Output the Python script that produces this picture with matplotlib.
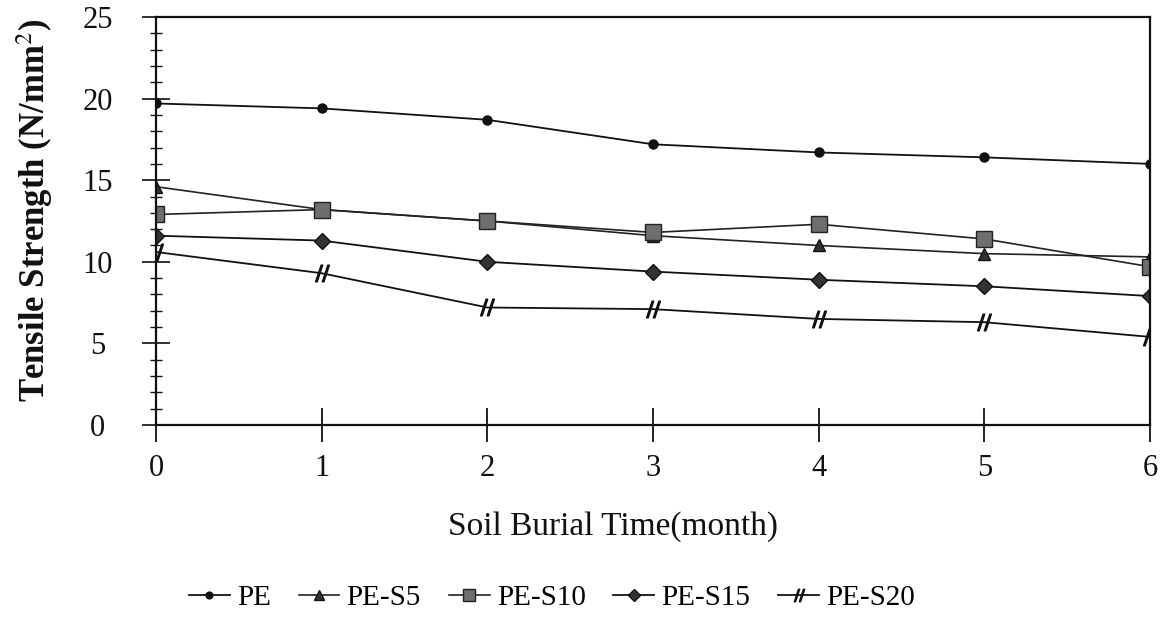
import matplotlib.pyplot as plt
from matplotlib.ticker import MultipleLocator

# Tensile strength (N/mm^2) after each month of soil burial
months = [0, 1, 2, 3, 4, 5, 6]
pe = [19.7, 19.4, 18.7, 17.2, 16.7, 16.4, 16.0]
pe_s5 = [14.6, 13.2, 12.5, 11.6, 11.0, 10.5, 10.3]
pe_s10 = [12.9, 13.2, 12.5, 11.8, 12.3, 11.4, 9.7]
pe_s15 = [11.6, 11.3, 10.0, 9.4, 8.9, 8.5, 7.9]
pe_s20 = [10.6, 9.3, 7.2, 7.1, 6.5, 6.3, 5.4]

series_names = ["PE", "PE-S5", "PE-S10", "PE-S15", "PE-S20"]

plt.rcParams["font.family"] = ["Liberation Serif", "DejaVu Serif"]
plt.rcParams["mathtext.fontset"] = "stix"


def plot_results():
    fig = plt.figure(figsize=(11.68, 6.22), dpi=100)
    ax = fig.add_axes([0.1336, 0.3167, 0.851, 0.656])

    ink = "#111111"
    ax.plot(months, pe, color=ink, lw=1.3, marker="o", ms=6.5,
            mfc=ink, mec=ink, label=series_names[0])
    ax.plot(months, pe_s5, color="#222222", lw=1.2, marker="^", ms=9,
            mfc="#333333", mec=ink, label=series_names[1])
    ax.plot(months, pe_s10, color="#222222", lw=1.2, marker="s", ms=11,
            mfc="#6e6e6e", mec="#222222", label=series_names[2])
    ax.plot(months, pe_s15, color=ink, lw=1.3, marker="D", ms=8,
            mfc="#333333", mec=ink, label=series_names[3])
    ax.plot(months, pe_s20, color=ink, lw=1.3, marker="$//$", ms=12,
            mfc=ink, mec=ink, label=series_names[4])

    ax.set_xlim(0, 6)
    ax.set_ylim(0, 25)
    ax.set_xticks(months)
    ax.yaxis.set_major_locator(MultipleLocator(5))
    ax.yaxis.set_minor_locator(MultipleLocator(1))

    for side in ["left", "bottom", "top", "right"]:
        ax.spines[side].set_linewidth(1.6)
        ax.spines[side].set_color(ink)

    ax.tick_params(axis="x", which="major", direction="inout", length=24,
                   width=1.3, pad=9, labelsize=22, colors=ink)
    ax.tick_params(axis="y", which="major", direction="inout", length=20,
                   width=1.2, pad=32, labelsize=22, colors=ink)
    ax.tick_params(axis="y", which="minor", direction="inout", length=8,
                   width=1.0, colors=ink)
    for label in ax.get_yticklabels():
        label.set_horizontalalignment("center")

    # axis titles placed in figure coordinates
    fig.text(613 / 1168, 1 - 527 / 622, "Soil Burial Time(month)",
             fontsize=24, ha="center", va="center", color=ink)
    fig.text(35 / 1168, 1 - 210 / 622, "Tensile Strength (N/mm$^2$)",
             fontsize=25, fontweight="bold", rotation=90,
             ha="center", va="center", color=ink)

    fig.legend(loc="center", bbox_to_anchor=(552 / 1168, 1 - 598 / 622),
               ncol=5, frameon=False, fontsize=21, handlelength=1.4,
               handletextpad=0.25, columnspacing=0.95, markerscale=0.75)

    fig.savefig("out.png", dpi=100)


def main():
    plot_results()


if __name__ == "__main__":
    main()
